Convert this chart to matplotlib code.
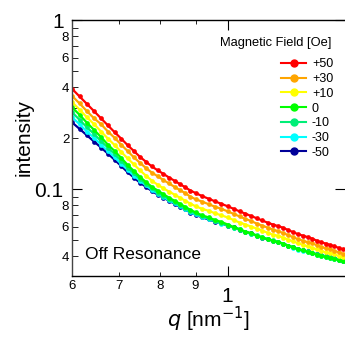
import numpy as np
import matplotlib.pyplot as plt
from matplotlib.ticker import FixedLocator, FixedFormatter
from matplotlib.lines import Line2D

plt.rcParams['font.family'] = ['Liberation Sans', 'DejaVu Sans']

# scattering vector q [nm^-1]
q = [6.0, 6.15, 6.3, 6.45, 6.6, 6.75, 6.9, 7.05, 7.2, 7.35, 7.5, 7.65, 7.8, 7.95,
     8.1, 8.25, 8.4, 8.55, 8.7, 8.85, 9.0, 9.2, 9.4, 9.6, 9.8, 10.0, 10.2, 10.4,
     10.6, 10.8, 11.0, 11.2, 11.4, 11.6, 11.8, 12.0, 12.2, 12.4, 12.6, 12.8, 13.0,
     13.2, 13.4, 13.6, 13.8, 14.0, 14.2, 14.4, 14.6]

# intensity for each applied field
i_p50 = [0.392, 0.353, 0.319, 0.289, 0.262, 0.238, 0.217, 0.199, 0.182, 0.168,
         0.155, 0.145, 0.136, 0.129, 0.123, 0.117, 0.112, 0.107, 0.1025, 0.098,
         0.0948, 0.0908, 0.0876, 0.0845, 0.0817, 0.0791, 0.0764, 0.0738, 0.0715,
         0.0693, 0.0672, 0.0652, 0.0633, 0.0617, 0.0604, 0.0590, 0.0572, 0.0556,
         0.0541, 0.0530, 0.0520, 0.0509, 0.0495, 0.0484, 0.0476, 0.0467, 0.0458,
         0.0449, 0.0440]
i_p30 = [0.356, 0.321, 0.289, 0.262, 0.242, 0.219, 0.201, 0.183, 0.168, 0.154,
         0.143, 0.133, 0.125, 0.119, 0.113, 0.108, 0.103, 0.0986, 0.0946, 0.0902,
         0.0871, 0.0842, 0.0813, 0.0785, 0.0764, 0.0738, 0.0713, 0.0689, 0.0666,
         0.0647, 0.0625, 0.0608, 0.0592, 0.0576, 0.0564, 0.0549, 0.0534, 0.0519,
         0.0505, 0.0495, 0.0485, 0.0478, 0.0465, 0.0455, 0.0446, 0.0440, 0.0431,
         0.0422, 0.0414]
i_p10 = [0.327, 0.295, 0.266, 0.242, 0.219, 0.199, 0.182, 0.166, 0.152, 0.140,
         0.129, 0.120, 0.112, 0.106, 0.101, 0.0966, 0.0927, 0.0889, 0.0853, 0.0819,
         0.0791, 0.0764, 0.0743, 0.0718, 0.0699, 0.0679, 0.0656, 0.0634, 0.0617,
         0.0600, 0.0584, 0.0568, 0.0552, 0.0537, 0.0530, 0.0516, 0.0502, 0.0491,
         0.0478, 0.0468, 0.0459, 0.0449, 0.0440, 0.0431, 0.0422, 0.0416, 0.0411,
         0.0402, 0.0394]
i_0 = [0.305, 0.275, 0.247, 0.224, 0.203, 0.183, 0.168, 0.153, 0.139, 0.128,
       0.118, 0.110, 0.103, 0.0980, 0.0933, 0.0889, 0.0853, 0.0819, 0.0785, 0.0754,
       0.0728, 0.0699, 0.0679, 0.0656, 0.0639, 0.0617, 0.0596, 0.0580, 0.0560,
       0.0549, 0.0530, 0.0519, 0.0505, 0.0495, 0.0485, 0.0475, 0.0462, 0.0452,
       0.0440, 0.0434, 0.0425, 0.0419, 0.0408, 0.0402, 0.0397, 0.0391, 0.0386,
       0.0381, 0.0373]
i_m10 = [0.285, 0.257, 0.232, 0.212, 0.192, 0.176, 0.161, 0.147, 0.134, 0.124,
         0.115, 0.107, 0.101, 0.0953, 0.0914, 0.0871, 0.0836, 0.0802, 0.0775, 0.0738,
         0.0718, 0.0689, 0.0670, 0.0647, 0.0630, 0.0608, 0.0592, 0.0576, 0.0556,
         0.0545, 0.0532, 0.0516, 0.0507, 0.0497, 0.0486, 0.0476, 0.0463, 0.0453,
         0.0441, 0.0435, 0.0428, 0.0420, 0.0411, 0.0405, 0.0400, 0.0394, 0.0389,
         0.0383, 0.0375]
i_m30 = [0.266, 0.242, 0.219, 0.201, 0.183, 0.168, 0.154, 0.141, 0.130, 0.120,
         0.112, 0.105, 0.0986, 0.0940, 0.0895, 0.0859, 0.0824, 0.0791, 0.0764, 0.0728,
         0.0708, 0.0684, 0.0666, 0.0643, 0.0625, 0.0611, 0.0590, 0.0578, 0.0558,
         0.0543, 0.0531, 0.0518, 0.0506, 0.0494, 0.0484, 0.0474, 0.0461, 0.0451,
         0.0439, 0.0433, 0.0427, 0.0418, 0.0410, 0.0404, 0.0399, 0.0393, 0.0388,
         0.0382, 0.0374]
i_m50 = [0.248, 0.227, 0.208, 0.191, 0.176, 0.162, 0.149, 0.137, 0.126, 0.117,
         0.109, 0.103, 0.0973, 0.0927, 0.0889, 0.0853, 0.0819, 0.0785, 0.0759, 0.0726,
         0.0706, 0.0679, 0.0661, 0.0641, 0.0627, 0.0606, 0.0594, 0.0574, 0.0557,
         0.0547, 0.0529, 0.0514, 0.0504, 0.0496, 0.0485, 0.0476, 0.0462, 0.0452,
         0.0440, 0.0434, 0.0428, 0.0419, 0.0411, 0.0405, 0.0400, 0.0394, 0.0389,
         0.0383, 0.0375]

labels = ['+50', '+30', '+10', '0', '-10', '-30', '-50']
series = [i_p50, i_p30, i_p10, i_0, i_m10, i_m30, i_m50]
colors = ['#ff0000', '#ffa500', '#ffff00', '#00ff00', '#00ee77', '#00ffff', '#000099']

fig = plt.figure(figsize=(3.45, 3.42), dpi=100)
ax = fig.add_axes([72/345, 1-276/342, 1-72/345, 256/342])

# draw -50 first so +50 ends on top
for vals, c in list(zip(series, colors))[::-1]:
    ax.plot(q, vals, '-o', color=c, ms=3.4, lw=1.6, mew=0)

ax.set_xscale('log')
ax.set_yscale('log')
ax.set_xlim(6, 14.7)
ax.set_ylim(0.0306, 1.0)

ax.xaxis.set_major_locator(FixedLocator([10]))
ax.xaxis.set_major_formatter(FixedFormatter(['1']))
ax.xaxis.set_minor_locator(FixedLocator([6, 7, 8, 9]))
ax.xaxis.set_minor_formatter(FixedFormatter(['6', '7', '8', '9']))

y_minor = [0.04, 0.05, 0.06, 0.07, 0.08, 0.09, 0.2, 0.3, 0.4, 0.5, 0.6, 0.7, 0.8, 0.9]
y_minor_lab = ['4', '', '6', '', '8', '', '2', '', '4', '', '6', '', '8', '']
ax.yaxis.set_major_locator(FixedLocator([0.1, 1]))
ax.yaxis.set_major_formatter(FixedFormatter(['0.1', '1']))
ax.yaxis.set_minor_locator(FixedLocator(y_minor))
ax.yaxis.set_minor_formatter(FixedFormatter(y_minor_lab))

ax.tick_params(which='both', direction='in', top=True, right=False, colors='black')
ax.tick_params(axis='y', which='major', right=True)
ax.tick_params(axis='x', which='major', length=7, labelsize=15, pad=8)
ax.tick_params(axis='x', which='minor', length=3, labelsize=9.5, pad=3)
ax.tick_params(axis='y', which='major', length=7, labelsize=15, pad=6)
ax.tick_params(axis='y', which='minor', length=4, labelsize=9.5, pad=2)

ax.spines['right'].set_visible(False)
for s in ['left', 'top', 'bottom']:
    ax.spines[s].set_linewidth(1.0)
ax.spines['left'].set_color('#444444')

ax.set_xlabel(r'$q$ [nm$^{-1}$]', fontsize=15, labelpad=-1)
ax.set_ylabel('intensity', fontsize=15)
ax.yaxis.set_label_coords(-0.142, 0.54)

ax.text(6.27, 0.041, 'Off Resonance', fontsize=12.5, va='center', ha='left')

# legend title as its own text, entries below it
fig.text(331/345, 1-43/342, 'Magnetic Field [Oe]', fontsize=9.3,
         ha='right', va='center')
handles = [Line2D([], [], color=c, lw=1.5, marker='o', ms=5,
                  markerfacecolor=c, markeredgecolor=c) for c in colors]
ax.legend(handles, labels, frameon=False, fontsize=9,
          loc='upper left', bbox_to_anchor=(275/345, 1-52/342),
          bbox_transform=fig.transFigure, borderpad=0, labelspacing=0.22,
          handlelength=2.0, handletextpad=0.45)

fig.savefig('out.png', dpi=100)
